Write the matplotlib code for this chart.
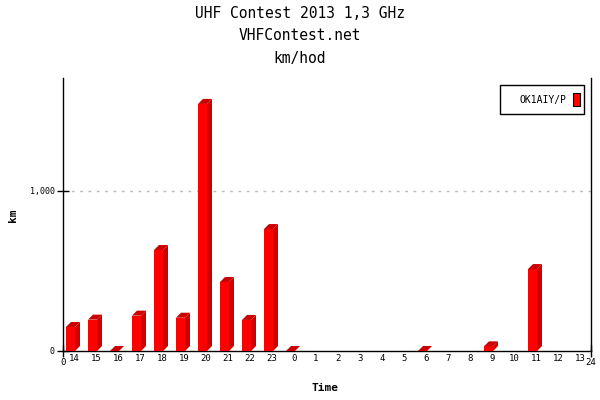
import numpy as np
import matplotlib
matplotlib.use("Agg")
import matplotlib.pyplot as plt
from matplotlib.patches import Polygon, Rectangle

# data (km per hour of the contest)
hours = ['14', '15', '16', '17', '18', '19', '20', '21', '22', '23', '0', '1',
         '2', '3', '4', '5', '6', '7', '8', '9', '10', '11', '12', '13']
km = [150, 196, 0, 221, 631, 208, 1544, 431, 194, 762, 0, np.nan,
      np.nan, np.nan, np.nan, np.nan, 0, np.nan, np.nan, 29, np.nan, 512, np.nan, np.nan]
series = 'OK1AIY/P'

front = '#ff0000'
shade = '#cc0000'
mono = 'DejaVu Sans Mono'

W, H = 600, 400
fig = plt.figure(figsize=(6, 4), dpi=100)
ax = fig.add_axes([63 / W, 1 - 351 / H, 528 / W, 273 / H])
ymax = 1706
ax.set_xlim(0, 24)
ax.set_ylim(0, ymax)

# 3d offsets, in data units (5 px each way)
px_x = 528 / 24
px_y = 273 / ymax
dx = 5 / px_x
dy = 5 / px_y
w = 9 / px_x

for i, v in enumerate(km):
    if np.isnan(v):
        continue
    left = i + 0.5 - 8 / px_x
    ax.bar(left, v, width=w, align='edge', color=front, zorder=3)
    side = Polygon([(left + w, 0), (left + w + dx, dy), (left + w + dx, v + dy), (left + w, v)],
                   closed=True, color=shade, lw=0, zorder=3)
    top = Polygon([(left, v), (left + dx, v + dy), (left + w + dx, v + dy), (left + w, v)],
                  closed=True, color=shade, lw=0, zorder=3)
    ax.add_patch(side)
    ax.add_patch(top)

# grid at 1,000
ax.axhline(1000, color='#bbbbbb', ls=(0, (2, 4)), lw=1, zorder=1)

ax.spines['top'].set_visible(False)
for s in ['left', 'right', 'bottom']:
    ax.spines[s].set_linewidth(1)

ax.set_yticks([0, 1000])
ax.set_yticklabels(['0', '1,000'], fontfamily=mono, fontsize=6)
ax.tick_params(axis='y', direction='inout', length=8, width=1, pad=2)

ax.set_xticks([0, 24])
ax.set_xticklabels(['0', '24'], fontfamily=mono, fontsize=6.5)
ax.tick_params(axis='x', which='major', direction='inout', length=8, width=1, pad=1)
ax.set_xticks(np.arange(24) + 0.5, minor=True)
ax.set_xticklabels(hours, minor=True, fontfamily=mono, fontsize=6.5)
ax.tick_params(axis='x', which='minor', length=0, pad=2)

ax.set_xlabel('Time', fontfamily=mono, fontsize=8, fontweight='bold')
ax.set_ylabel('km', fontfamily=mono, fontsize=8, fontweight='bold')
ax.xaxis.set_label_coords((325 - 63) / 528, (351 - 388) / 273)
ax.yaxis.set_label_coords((13 - 63) / 528, (351 - 215) / 273)
ax.xaxis.label.set_va('center')
ax.yaxis.label.set_va('center')

fig.text(0.5, 1 - 14 / H, 'UHF Contest 2013 1,3 GHz', ha='center', va='center',
         fontfamily=mono, fontsize=10.5)
fig.text(0.5, 1 - 36 / H, 'VHFContest.net', ha='center', va='center',
         fontfamily=mono, fontsize=10.5)
fig.text(0.5, 1 - 59 / H, 'km/hod', ha='center', va='center',
         fontfamily=mono, fontsize=10.5)

# legend box, drawn in figure pixels
box = Rectangle((500 / W, 1 - 114 / H), 84 / W, 29 / H, transform=fig.transFigure,
                facecolor='white', edgecolor='black', lw=1, zorder=5)
fig.add_artist(box)
swatch = Rectangle((573 / W, 1 - 106 / H), 7 / W, 13 / H, transform=fig.transFigure,
                   facecolor=front, edgecolor='black', lw=0.8, zorder=6)
fig.add_artist(swatch)
fig.text(567 / W, 1 - 99.5 / H, series, ha='right', va='center',
         fontfamily=mono, fontsize=7, zorder=6)

fig.savefig('out.png', dpi=100)
